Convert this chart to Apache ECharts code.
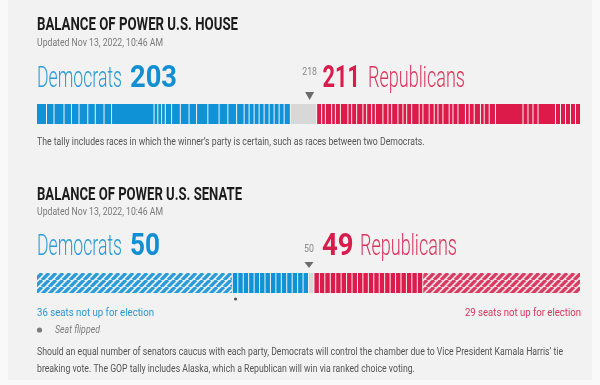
<!DOCTYPE html>
<html><head><meta charset="utf-8">
<script src="https://cdn.jsdelivr.net/npm/echarts@6/dist/echarts.min.js"></script>
<style>html,body{margin:0;padding:0;background:#f9f9f9}#c{width:600px;height:385px}</style>
</head><body><div id="c"></div>
<script>
// ---------- DATA ----------
const houseTotal = 435;
const houseMajority = 218;
const houseDem = 203;
const houseRep = 211;
const houseDemSegments = [8,6,8,6,6,7,6,7,6,34,3,3,3,5,7,7,6,9,9,7,7,6,4,4,4,4,4,4,4,4,5];
const houseUndecided = [21];
const houseRepSegments = [4,3,5,3,4,6,3,4,5,3,4,3,6,4,3,5,4,3,4,6,3,5,4,3,4,5,3,4,6,3,4,5,3,4,5,22,4,4,4,14,4,4,4,4,4];

const senateTotal = 100;
const senateMajority = 50;
const senateDem = 50;
const senateRep = 49;
const senateDemNotUp = [36];
const senateDemWon = [1,1,1,1,1,1,1,1,1,1,1,1,1,1];
const senateUndecided = [1];
const senateRepWon = [1,1,1,1,1,1,1,1,1,1,1,1,1,1,1,1,1,1,1,1];
const senateRepNotUp = [29];
const senateFlipped = [36];

const texts = {
  houseTitle: 'BALANCE OF POWER U.S. HOUSE',
  senateTitle: 'BALANCE OF POWER U.S. SENATE',
  updated: 'Updated Nov 13, 2022, 10:46 AM',
  houseNote: 'The tally includes races in which the winner\u2019s party is certain, such as races between two Democrats.',
  demNotUp: '36 seats not up for election',
  repNotUp: '29 seats not up for election',
  flipped: 'Seat flipped',
  note1: 'Should an equal number of senators caucus with each party, Democrats will control the chamber due to Vice President Kamala Harris\u2019 tie',
  note2: 'breaking vote. The GOP tally includes Alaska, which a Republican will win via ranked choice voting.'
};

// ---------- STYLE ----------
const FONT = "Roboto, 'Liberation Sans', sans-serif";
const BLUE = '#0f93d6', RED = '#dc1b4b', GRAY = '#d8d8d8';
function hatch(fg, bg) {
  const s = 7, c = document.createElement('canvas');
  c.width = c.height = s;
  const g = c.getContext('2d');
  g.fillStyle = bg; g.fillRect(0, 0, s, s);
  g.strokeStyle = fg; g.lineWidth = 3.3; g.beginPath();
  for (const o of [-s, 0, s]) { g.moveTo(o, s); g.lineTo(o + s, 0); }
  g.stroke();
  return c;
}
const FILLS = [BLUE, GRAY, RED,
  {image: hatch('#2b9bd8', '#e3eef5'), repeat: 'repeat'},
  {image: hatch('#d93a61', '#f3dde3'), repeat: 'repeat'}];

function build(groups) {
  let pos = 0; const out = [];
  groups.forEach(([k, sizes]) => sizes.forEach(s => { out.push([pos, pos + s, k]); pos += s; }));
  return out;
}
const houseData = build([[0, houseDemSegments], [1, houseUndecided], [2, houseRepSegments]]);
const senateData = build([[3, senateDemNotUp], [0, senateDemWon], [1, senateUndecided], [2, senateRepWon], [4, senateRepNotUp]]);

const mctx = document.createElement('canvas').getContext('2d');
function sx(text, font, w) { mctx.font = font; return w / mctx.measureText(text).width; }

function renderBar(params, api) {
  const s = api.value(0), e = api.value(1), k = api.value(2);
  const a = api.coord([s, 1]), b = api.coord([e, 0]);
  return {type: 'rect', shape: {x: a[0], y: a[1], width: Math.max(b[0] - a[0] - 1, 0.5), height: b[1] - a[1]},
    style: {fill: FILLS[k]}};
}
function markerRenderer(textOff, triTop, triBot) {
  return function (params, api) {
    const v = api.value(0), p = api.coord([v, 1]);
    const x = p[0], top = p[1];
    const font = '400 11px ' + FONT;
    return {type: 'group', children: [
      {type: 'polygon', shape: {points: [[x - 4.5, top - triTop], [x + 4.5, top - triTop], [x, top - triBot]]}, style: {fill: '#6b6b6b'}},
      {type: 'text', x: x, y: top - textOff, scaleX: 0.8,
        style: {text: String(v), font: font, fill: '#8a8a8a', align: 'center', verticalAlign: 'middle'}}
    ]};
  };
}
function renderDot(params, api) {
  const p = api.coord([api.value(0) + 0.5, 0]);
  return {type: 'circle', shape: {cx: p[0], cy: p[1] + 6, r: 1.6}, style: {fill: '#555'}};
}

function T(text, x, y, size, weight, color, width, extra) {
  extra = extra || {};
  const font = (extra.italic ? 'italic ' : '') + weight + ' ' + size + 'px ' + FONT;
  const scale = extra.scale || (width ? sx(text, font, width) : 1);
  return {type: 'text', x: x, y: y, scaleX: scale, z: 10,
    style: {text: text, font: font, fill: color, align: extra.align || 'left', verticalAlign: 'middle'}};
}
const noteFont = '400 10px ' + FONT;
const noteScale = sx(texts.note1, noteFont, 526);

const graphic = [
  {type: 'rect', z: -10, shape: {x: 8, y: 0, width: 584, height: 380}, style: {fill: '#f2f2f2'}},
  T(texts.houseTitle, 37, 25, 19, 700, '#1c1c1c', 201),
  T(texts.updated, 37, 43.5, 10, 400, '#7a7a7a', 126),
  T('Democrats', 37, 80, 29, 300, '#2a9bd8', 85),
  T(String(houseDem), 130, 78.5, 32, 700, '#128fd3', 47),
  T(String(houseRep), 322.5, 78.5, 32, 700, '#d81c4c', 37.5),
  T('Republicans', 368, 80, 29, 300, '#d8365d', 97),
  T(texts.houseNote, 37, 142, 10, 400, '#555', 0, {scale: noteScale}),

  T(texts.senateTitle, 37, 195, 19, 700, '#1c1c1c', 205),
  T(texts.updated, 37, 212, 10, 400, '#7a7a7a', 126),
  T('Democrats', 37, 247.5, 29, 300, '#2a9bd8', 85),
  T(String(senateDem), 130, 246.5, 32, 700, '#128fd3', 30),
  T(String(senateRep), 322, 246.5, 32, 700, '#d81c4c', 31.5),
  T('Republicans', 360, 247.5, 29, 300, '#d8365d', 97),
  T(texts.demNotUp, 37, 313, 11, 400, '#2a96d3', 117),
  T(texts.repNotUp, 581, 313, 11, 400, '#d8365d', 116, {align: 'right'}),
  {type: 'circle', z: 10, shape: {cx: 39.5, cy: 330, r: 2.6}, style: {fill: '#7d7d7d'}},
  T(texts.flipped, 55, 330, 11, 400, '#7d7d7d', 45, {italic: true}),
  T(texts.note1, 37, 352, 10, 400, '#555', 0, {scale: noteScale}),
  T(texts.note2, 37, 369, 10, 400, '#555', 0, {scale: noteScale})
];

const chart = echarts.init(document.getElementById('c'), null, {renderer: 'canvas'});
chart.setOption({
  backgroundColor: '#f9f9f9',
  animation: false,
  grid: [{left: 37, width: 544, top: 104, height: 20}, {left: 37, width: 544, top: 273, height: 20}],
  xAxis: [{gridIndex: 0, type: 'value', min: 0, max: houseTotal, show: false},
          {gridIndex: 1, type: 'value', min: 0, max: senateTotal, show: false}],
  yAxis: [{gridIndex: 0, type: 'value', min: 0, max: 1, show: false},
          {gridIndex: 1, type: 'value', min: 0, max: 1, show: false}],
  series: [
    {type: 'custom', xAxisIndex: 0, yAxisIndex: 0, renderItem: renderBar, data: houseData, silent: true, encode: {x: [0, 1]}},
    {type: 'custom', xAxisIndex: 1, yAxisIndex: 1, renderItem: renderBar, data: senateData, silent: true, encode: {x: [0, 1]}},
    {type: 'custom', xAxisIndex: 0, yAxisIndex: 0, renderItem: markerRenderer(32, 12, 4), data: [[houseMajority]], silent: true, clip: false},
    {type: 'custom', xAxisIndex: 1, yAxisIndex: 1, renderItem: markerRenderer(24, 11, 5), data: [[senateMajority]], silent: true, clip: false},
    {type: 'custom', xAxisIndex: 1, yAxisIndex: 1, renderItem: renderDot, data: senateFlipped.map(v => [v]), silent: true, clip: false}
  ],
  graphic: graphic
});
</script></body></html>
